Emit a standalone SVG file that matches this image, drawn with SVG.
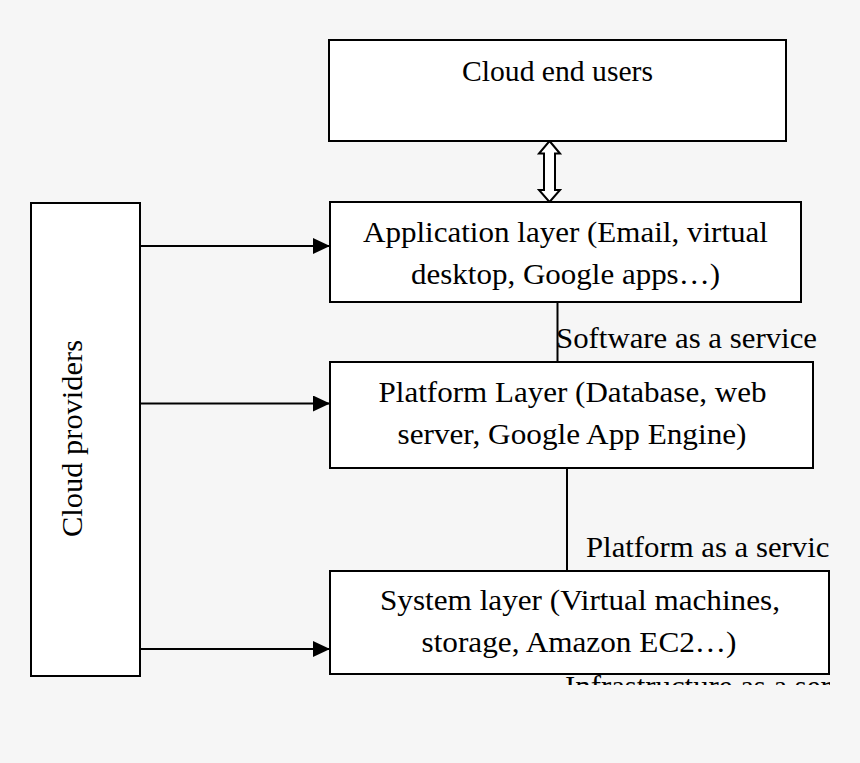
<svg xmlns="http://www.w3.org/2000/svg" width="860" height="763" viewBox="0 0 860 763">
<style>
.box{fill:#ffffff;stroke:#000000;stroke-width:2}
.line{fill:none;stroke:#000000;stroke-width:2}
text{font-family:"Liberation Serif","Times New Roman",serif;font-size:29px;fill:#000000}
.c{text-anchor:middle}
</style>
<defs>
<marker id="ah" markerWidth="17" markerHeight="16" refX="17" refY="8" orient="auto" markerUnits="userSpaceOnUse">
<path d="M0,0 L17,8 L0,16 Z" fill="#000000"/>
</marker>
<clipPath id="clip"><rect x="0" y="0" width="830" height="685"/></clipPath>
</defs>
<rect x="0" y="0" width="860" height="763" fill="#f6f6f6"/>
<g clip-path="url(#clip)">
<g id="connectors">
<polygon class="box" points="549.5,141 560,153.5 555,153.5 555,190 560,190 549.5,202 539,190 544,190 544,153.5 539,153.5"/>
<line class="line" x1="140" y1="246" x2="330" y2="246" marker-end="url(#ah)"/>
<line class="line" x1="140" y1="403.5" x2="330" y2="403.5" marker-end="url(#ah)"/>
<line class="line" x1="140" y1="649" x2="330" y2="649" marker-end="url(#ah)"/>
<line class="line" x1="557.5" y1="302" x2="557.5" y2="362"/>
<line class="line" x1="567" y1="468" x2="567" y2="571"/>
<text x="556" y="348" textLength="261" lengthAdjust="spacingAndGlyphs">Software as a service</text>
<text x="586" y="557" textLength="257" lengthAdjust="spacingAndGlyphs">Platform as a service</text>
<text x="565" y="696" textLength="317" lengthAdjust="spacingAndGlyphs">Infrastructure as a service</text>
</g>
<g id="cloud-end-users">
<rect class="box" x="329" y="40" width="457" height="101"/>
<text class="c" x="557.5" y="81" textLength="191" lengthAdjust="spacingAndGlyphs">Cloud end users</text>
</g>
<g id="application-layer">
<rect class="box" x="330" y="202" width="471" height="100"/>
<text class="c" x="565.5" y="241.5" textLength="405" lengthAdjust="spacingAndGlyphs">Application layer (Email, virtual</text>
<text class="c" x="565.5" y="283.5" textLength="309" lengthAdjust="spacingAndGlyphs">desktop, Google apps…)</text>
</g>
<g id="platform-layer">
<rect class="box" x="330" y="362" width="483" height="106"/>
<text class="c" x="572.5" y="401.5" textLength="388" lengthAdjust="spacingAndGlyphs">Platform Layer (Database, web</text>
<text class="c" x="572" y="443.5" textLength="349" lengthAdjust="spacingAndGlyphs">server, Google App Engine)</text>
</g>
<g id="system-layer">
<rect class="box" x="330" y="571" width="499" height="103"/>
<text class="c" x="580" y="610" textLength="400" lengthAdjust="spacingAndGlyphs">System layer (Virtual machines,</text>
<text class="c" x="579" y="651.5" textLength="315" lengthAdjust="spacingAndGlyphs">storage, Amazon EC2…)</text>
</g>
<g id="cloud-providers">
<rect class="box" x="31" y="203" width="109" height="473"/>
<text class="c" transform="translate(81.5,438.5) rotate(-90)" x="0" y="0" textLength="197" lengthAdjust="spacingAndGlyphs">Cloud providers</text>
</g>
</g>
</svg>
